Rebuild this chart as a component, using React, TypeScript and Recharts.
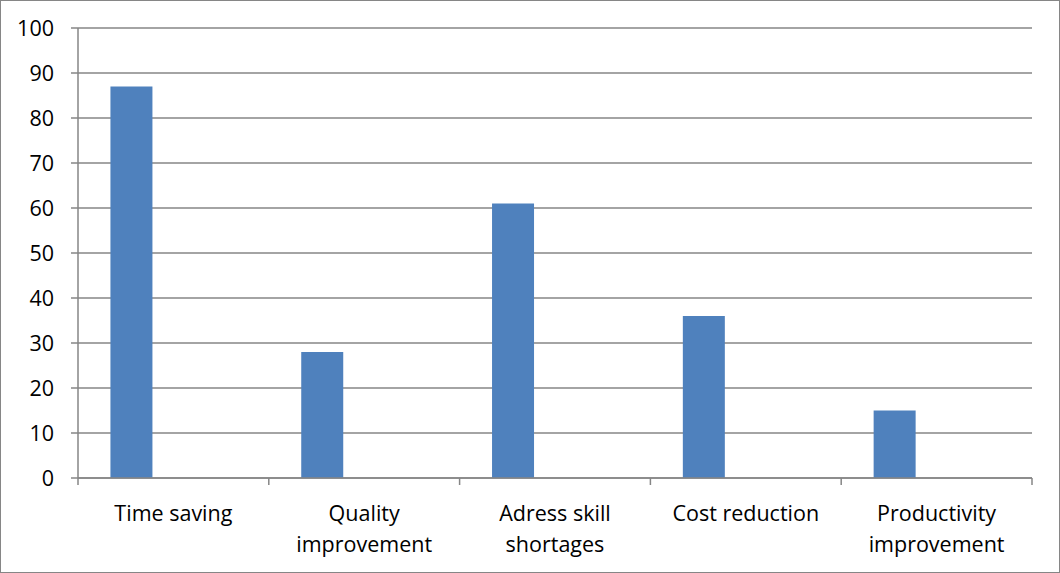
import React from "react";
import { BarChart, Bar, XAxis, YAxis, CartesianGrid } from "recharts";

const categories = [
  "Time saving",
  "Quality\nimprovement",
  "Adress skill\nshortages",
  "Cost reduction",
  "Productivity\nimprovement",
];
const series1 = [87, 28, 61, 36, 15];
const series2 = [null, null, null, null, null];
const series3 = [null, null, null, null, null];
const yTicks = [0, 10, 20, 30, 40, 50, 60, 70, 80, 90, 100];

const data = categories.map((name, i) => ({
  name,
  s1: series1[i],
  s2: series2[i],
  s3: series3[i],
}));

const W = 1060;
const H = 573;
const LEFT = 78;
const RIGHT = 28;
const TOP = 28;
const BOTTOM = 95;
const HALF_BAND = (W - LEFT - RIGHT) / categories.length / 2;
const GRID = "#868686";
const FONT = "'Open Sans', sans-serif";

function CategoryTick(props: any) {
  const { x, y, payload, index } = props;
  const lines = String(payload.value).split("\n");
  return (
    <g>
      <line x1={x - HALF_BAND} x2={x - HALF_BAND} y1={y} y2={y + 7} stroke={GRID} strokeWidth={1.5} />
      {index === categories.length - 1 && (
        <line x1={x + HALF_BAND} x2={x + HALF_BAND} y1={y} y2={y + 7} stroke={GRID} strokeWidth={1.5} />
      )}
      {lines.map((l, i) => (
        <text
          key={i}
          x={x}
          y={y + 34 + i * 31}
          textAnchor="middle"
          dominantBaseline="central"
          fill="#000"
          fontSize={21.5}
          fontFamily={FONT}
        >
          {l}
        </text>
      ))}
    </g>
  );
}

export default function App() {
  return (
    <div
      style={{
        position: "absolute",
        left: 0,
        top: 0,
        width: W,
        height: H,
        background: "#fff",
      }}
    >
      <div
        style={{
          position: "absolute",
          left: 0,
          top: 0,
          width: W,
          height: H,
          boxSizing: "border-box",
          border: `1px solid ${GRID}`,
          pointerEvents: "none",
          zIndex: 1,
        }}
      />
      <BarChart
        width={W}
        height={H}
        data={data}
        margin={{ top: TOP, right: RIGHT, left: 0, bottom: 0 }}
        barGap={0}
        barCategoryGap="17%"
      >
        <CartesianGrid vertical={false} stroke={GRID} strokeWidth={1.5} />
        <XAxis
          dataKey="name"
          height={BOTTOM}
          tickLine={false}
          tickSize={0}
          tickMargin={0}
          axisLine={{ stroke: GRID, strokeWidth: 1.5 }}
          tick={<CategoryTick />}
          interval={0}
        />
        <YAxis
          width={LEFT}
          domain={[0, 100]}
          ticks={yTicks}
          interval={0}
          tickSize={7}
          tickMargin={17}
          tickLine={{ stroke: GRID, strokeWidth: 1.5 }}
          axisLine={{ stroke: GRID, strokeWidth: 1.5 }}
          tick={{ fill: "#000", fontSize: 21.5, fontFamily: FONT }}
        />
        <Bar dataKey="s1" fill="#4F81BD" isAnimationActive={false} />
        <Bar dataKey="s2" fill="#C0504D" isAnimationActive={false} />
        <Bar dataKey="s3" fill="#9BBB59" isAnimationActive={false} />
      </BarChart>
    </div>
  );
}
